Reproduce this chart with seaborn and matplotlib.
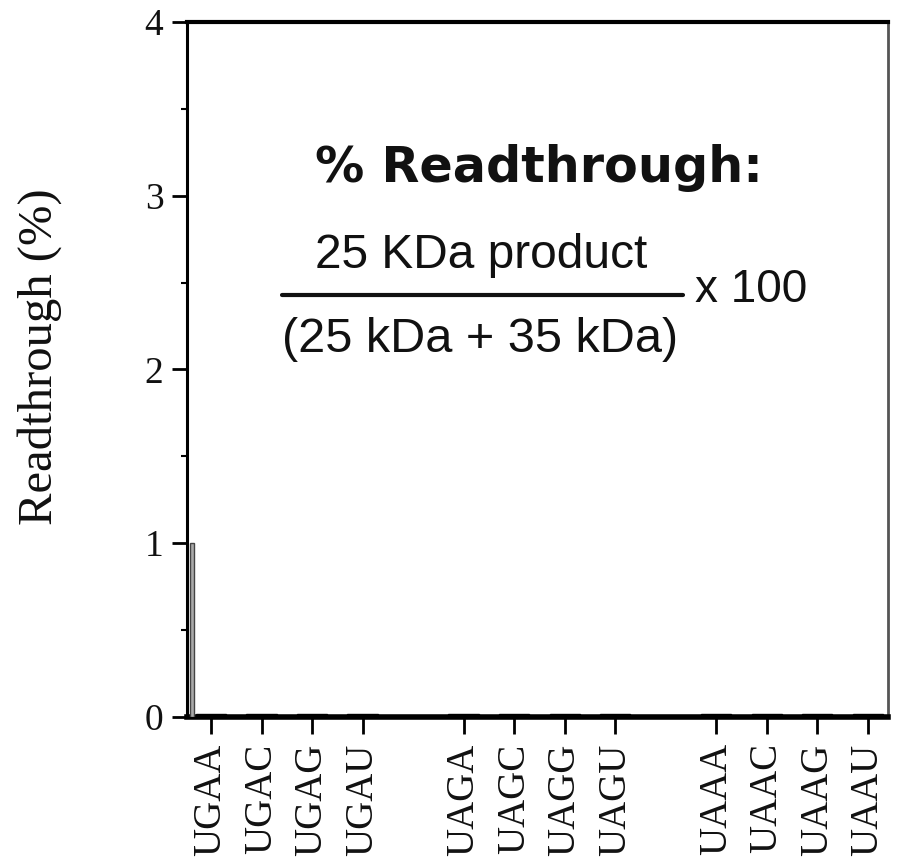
import matplotlib
matplotlib.use("Agg")
import matplotlib.pyplot as plt
from matplotlib.ticker import MultipleLocator
from matplotlib.lines import Line2D
import seaborn as sns
import pandas as pd

# ---- data ----
codons_uga = ["UGAA", "UGAC", "UGAG", "UGAU"]
codons_uag = ["UAGA", "UAGC", "UAGG", "UAGU"]
codons_uaa = ["UAAA", "UAAC", "UAAG", "UAAU"]
readthrough_uga = [0.02, 0.02, 0.02, 0.02]
readthrough_uag = [0.02, 0.02, 0.02, 0.02]
readthrough_uaa = [0.02, 0.02, 0.02, 0.02]
control_value = [1.0]
y_ticks = [0, 1, 2, 3, 4]
y_label = "Readthrough (%)"
title_text = "% Readthrough:"
numerator_text = "25 KDa product"
denominator_text = "(25 kDa + 35 kDa)"
factor_text = "x 100"

df = pd.DataFrame({
    "codon": codons_uga + codons_uag + codons_uaa,
    "value": readthrough_uga + readthrough_uag + readthrough_uaa,
})
order = codons_uga + ["_gap1"] + codons_uag + ["_gap2"] + codons_uaa

sns.set_theme(style="ticks")
plt.rcParams["font.family"] = ["Liberation Serif", "DejaVu Serif"]

fig = plt.figure(figsize=(8.97, 8.63), dpi=100)
ax = fig.add_axes([0.2085, 0.1692, 0.7815, 0.8053])

sns.barplot(data=df, x="codon", y="value", order=order, ax=ax,
            color="white", edgecolor="black", linewidth=1.0, width=0.6,
            errorbar=None)

# thin control bar next to the y-axis
ax.bar([-0.37], control_value, width=0.08, color="#aaaaaa",
       edgecolor="#444444", linewidth=1.0, zorder=3)

ax.set_xlim(-0.475, 13.4)
ax.set_ylim(0, 4)
ax.set_yticks(y_ticks)
ax.yaxis.set_minor_locator(MultipleLocator(0.5))
real_pos = [i for i, c in enumerate(order) if not c.startswith("_")]
ax.set_xticks(real_pos)
ax.set_xticklabels([order[i] for i in real_pos], rotation=90, fontsize=28)
ax.tick_params(axis="y", which="major", length=11, width=2, labelsize=27,
               pad=6, direction="out", color="black")
ax.tick_params(axis="y", which="minor", length=4, width=1.5,
               direction="out", color="black")
ax.tick_params(axis="x", which="major", length=12, width=2, pad=7,
               direction="out", color="black")

for lab in ax.get_xticklabels() + ax.get_yticklabels():
    lab.set_color("#111111")

ax.set_xlabel("")
ax.set_ylabel(y_label, fontsize=35, color="#111111")
ax.yaxis.set_label_coords(-0.178, 0.519)

for side, lw, col in [("left", 2.2, "black"), ("bottom", 4.0, "black"),
                      ("top", 3.0, "black"), ("right", 2.0, "#555555")]:
    ax.spines[side].set_visible(True)
    ax.spines[side].set_linewidth(lw)
    ax.spines[side].set_color(col)

# formula annotation
ax.text(0.5014, 0.7698, title_text, transform=ax.transAxes, ha="center",
        va="baseline", fontsize=35.5, fontweight="bold",
        family=["DejaVu Sans"], color="#111111")
ax.text(0.4194, 0.646, numerator_text, transform=ax.transAxes, ha="center",
        va="baseline", fontsize=34.5, family=["Liberation Sans"], color="#111111")
ax.add_line(Line2D([0.1355, 0.7076], [0.6072, 0.6072], transform=ax.transAxes,
                   color="#111111", linewidth=3.0))
ax.text(0.418, 0.5252, denominator_text, transform=ax.transAxes, ha="center",
        va="baseline", fontsize=35, family=["Liberation Sans"], color="#111111")
ax.text(0.7247, 0.5971, factor_text, transform=ax.transAxes, ha="left",
        va="baseline", fontsize=33, family=["Liberation Sans"], color="#111111")

fig.savefig("out.png", dpi=100, facecolor="white")
